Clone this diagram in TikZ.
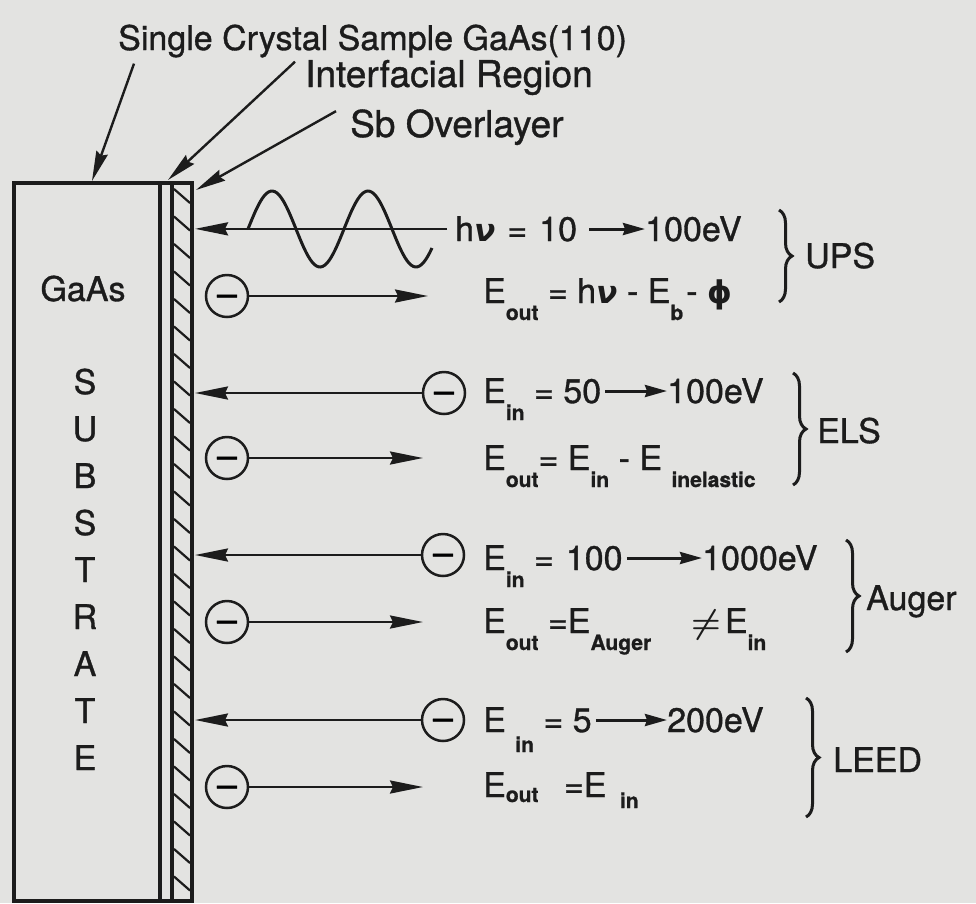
\RequirePackage{fix-cm}
\documentclass[tikz,border=0pt]{standalone}
\usepackage{amsmath,bm}
\usepackage{fontspec}
\setmainfont{TeX Gyre Heros}[FakeBold=1]
\newfontfamily\grk{DejaVu Sans}[Scale=0.92]
\usetikzlibrary{arrows.meta,positioning,calc,decorations.pathreplacing}
\definecolor{paper}{RGB}{227,227,225}
\definecolor{ink}{RGB}{28,28,28}
\newcommand{\sbs}[2][-17pt]{\raisebox{#1}{\fontsize{21}{21}\selectfont\bfseries #2}}
\newcommand{\nuu}{{\grk\bfseries\itshape ν}}
\newcommand{\phii}{{\grk\bfseries ϕ}}
\tikzset{
  Lab/.style={font=\fontsize{34}{40}\selectfont, text=ink, inner sep=0pt,
              anchor=base west},
  Big/.style={font=\fontsize{37}{42}\selectfont},
  Elec/.style={circle, draw=ink, line width=2.5pt, minimum size=42pt, inner sep=0pt,
               text height=20pt, text depth=0pt, font=\fontsize{36}{36}\selectfont},
  Wall/.style={draw=ink, line width=4pt},
  Hatch/.style={draw=ink, line width=2.2pt},
  Barr/.style={-{Stealth[length=33pt,width=13pt,inset=3pt]}, line width=2.6pt, draw=ink},
  Sarr/.style={-{Stealth[length=22pt,width=12pt,inset=2pt]}, line width=3pt, draw=ink},
  Parr/.style={-{Stealth[length=30pt,width=12pt,inset=3pt]}, line width=2.4pt, draw=ink},
  Brc/.style={decorate, decoration={brace, amplitude=13pt}, line width=3pt, draw=ink}
}

\begin{document}
\begin{tikzpicture}[x=1pt,y=-1pt]
  \useasboundingbox[fill=paper] (0,0) rectangle (976,903);

  % sample: GaAs substrate, interfacial region, hatched Sb overlayer
  \draw[Wall] (14,183) rectangle (192,901);
  \draw[Wall] (160,183) -- (160,901);
  \draw[Wall] (172,183) -- (172,901);
  \foreach \y in {189,216.5,...,890}
    \draw[Hatch] (174,\y) -- (190,\y+14);
  \coordinate (surf) at (195,0);

  \node[Lab, anchor=base] (gaas) at (83,301) {GaAs};
  \foreach \c [count=\i] in {S,U,B,S,T,R,A,T,E}
    \node[Lab, anchor=base] (sub\i) at (85,{347+47*\i}) {\c};

  % labels on top
  \node[Lab] (crys) at (118,50) {Single Crystal Sample GaAs(110)};
  \node[Lab, Big] (intf) at (305,87) {Interfacial Region};
  \node[Lab, Big] (sb) at (350,137) {Sb Overlayer};
  \coordinate (crysTip) at (92,181);
  \coordinate (intfTip) at (168,180);
  \coordinate (sbTip) at (196,190);
  \draw[Parr] ([xshift=16pt,yshift=-6pt]crys.south west) -- (crysTip);
  \draw[Parr] ([xshift=-10pt,yshift=-2pt]intf.north west) -- (intfTip);
  \draw[Parr] ([xshift=-14pt,yshift=-2pt]sb.north west) -- (sbTip);

  % UPS
  \draw[ink, line width=3pt] plot[domain=248:432, samples=90, smooth]
    (\x, {229-38*sin(3.75*(\x-248))});
  \node[Lab] (upsA) at (455,241) {h\nuu\hspace{12pt}=\hspace{12pt}10};
  \node[Lab] (upsB) at (645,241) {100eV};
  \draw[Barr] ([xshift=-8pt]upsA.west) -- (upsA.west -| surf);
  \draw[Sarr] ([xshift=12pt,yshift=12pt]upsA.base east) -- ([yshift=12pt]upsB.base west);
  \node[Elec] (eUps) at (227,296) {–};
  \coordinate (eUpsEnd) at (428,296);
  \draw[Barr] (eUps.east) -- (eUpsEnd);
  \node[Lab] (upsOut) at (483,303)
    {E\sbs{out} = h\nuu\ - E\sbs{b}\hspace{3pt}- \phii};
  \draw[Brc] (779,210) -- (779,302);
  \node[Lab] (ups) at (805,268) {UPS};

  % ELS
  \node[Elec] (eElsIn) at (444,393) {–};
  \draw[Barr] (eElsIn.west) -- (eElsIn.west -| surf);
  \node[Lab] (elsA) at (483,403) {E\sbs{in} = 50};
  \node[Lab] (elsB) at (667,403) {100eV};
  \draw[Sarr] ([xshift=4pt,yshift=12pt]elsA.base east) -- ([yshift=12pt]elsB.base west);
  \node[Elec] (eElsOut) at (227,458) {–};
  \coordinate (eElsEnd) at (423,458);
  \draw[Barr] (eElsOut.east) -- (eElsEnd);
  \node[Lab] (elsOut) at (483,470)
    {E\sbs{out}= E\sbs{in} - E \sbs{inelastic}};
  \draw[Brc] (793,373) -- (793,485);
  \node[Lab] (els) at (817,443) {ELS};

  % Auger
  \node[Elec] (eAugIn) at (443,555) {–};
  \draw[Barr] (eAugIn.west) -- (eAugIn.west -| surf);
  \node[Lab] (augA) at (483,570) {E\sbs{in} =\hspace{12pt}100};
  \node[Lab] (augB) at (702,570) {1000eV};
  \draw[Sarr] ([xshift=4pt,yshift=12pt]augA.base east) -- ([yshift=12pt]augB.base west);
  \node[Elec] (eAugOut) at (227,622) {–};
  \coordinate (eAugEnd) at (423,622);
  \draw[Barr] (eAugOut.east) -- (eAugEnd);
  \node[Lab] (augOut) at (483,633)
    {E\sbs{out} =E\sbs{Auger}\hspace{40pt}$\bm{\neq}$\hspace{4pt}E\sbs{in}};
  \draw[Brc] (846,540) -- (846,652);
  \node[Lab] (aug) at (866,610) {Auger};

  % LEED
  \node[Elec] (eLeedIn) at (443,720) {–};
  \draw[Barr] (eLeedIn.west) -- (eLeedIn.west -| surf);
  \node[Lab] (leedA) at (483,732) {E \sbs[-20pt]{in} = 5};
  \node[Lab] (leedB) at (667,732) {200eV};
  \draw[Sarr] ([xshift=4pt,yshift=12pt]leedA.base east) -- ([yshift=12pt]leedB.base west);
  \node[Elec] (eLeedOut) at (227,787) {–};
  \coordinate (eLeedEnd) at (423,787);
  \draw[Barr] (eLeedOut.east) -- (eLeedEnd);
  \node[Lab] (leedOut) at (483,797)
    {E\sbs[-5pt]{out} \hspace{16pt}=E \hspace{4pt}\sbs[-11pt]{in}};
  \draw[Brc] (806,698) -- (806,817);
  \node[Lab] (leed) at (833,772) {LEED};
\end{tikzpicture}
\end{document}
